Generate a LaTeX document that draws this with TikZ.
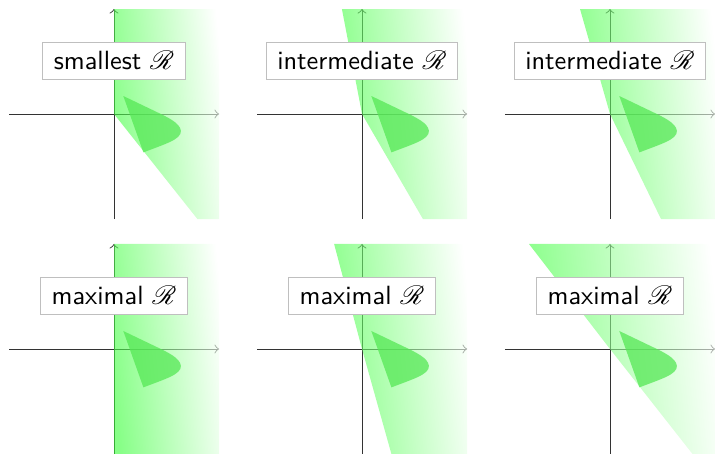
\documentclass[tikz,border=0pt]{standalone}
\usepackage{mathrsfs}
\definecolor{gL}{RGB}{55,255,55}
\definecolor{gIn}{RGB}{85,232,85}
\pgfdeclarehorizontalshading{greenfade}{100bp}{color(0bp)=(gL); color(25bp)=(gL); color(76bp)=(white); color(100bp)=(white)}
\tikzset{
  axisline/.style={->, line width=0.35pt, black!80},
  outerregion/.style={shading=greenfade, shading angle=6, fill opacity=0.6},
  innerregion/.style={fill=gIn, fill opacity=0.75},
  lab/.style={draw=black!25, fill=white, font=\sffamily, inner xsep=4.2pt, inner ysep=3.6pt}
}
\begin{document}
\begin{tikzpicture}[x=0.4cm,y=0.4cm]
\useasboundingbox (0,0) rectangle (23.833,-15.1);
\foreach \ox/\oy/\u/\d/\t/\n in {
  3.8/-3.8/0/2.78/smallest/l1,
  12.067/-3.8/-0.67/2.03/intermediate/l2,
  20.333/-3.8/-1.0/1.7/intermediate/l3,
  3.8/-11.633/0/0/maximal/l4,
  12.067/-11.633/-0.93/0.98/maximal/l5,
  20.333/-11.633/-2.7/2.75/maximal/l6}{
  \begin{scope}[shift={(\ox,\oy)}]
    \coordinate (o\n) at (0,0);
    \coordinate (xl\n) at (-3.5,0);
    \coordinate (xr\n) at (3.5,0);
    \coordinate (yb\n) at (0,-3.5);
    \coordinate (yt\n) at (0,3.5);
    \draw[axisline] (xl\n) -- (xr\n);
    \draw[axisline] (yb\n) -- (yt\n);
    \shade[outerregion] (\u,3.5) -- (0,0) -- (\d,-3.5) -- (3.5,-3.5) -- (3.5,3.5) -- cycle;
    \fill[innerregion] (0.31,0.6) -- (0.98,-1.28)
      .. controls (1.7,-1.0) and (2.25,-0.85) .. (2.23,-0.56)
      .. controls (2.2,-0.3) and (1.8,-0.12) .. (1.5,0.03) -- cycle;
    \node[lab] (\n) at (0,1.77) {\t\ $\mathscr{R}$};
  \end{scope}
}
\end{tikzpicture}
\end{document}
